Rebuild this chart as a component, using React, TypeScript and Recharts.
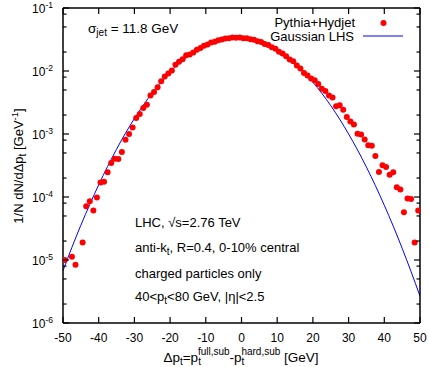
import React from 'react';
import { ComposedChart, Scatter, Line, XAxis, YAxis } from 'recharts';

const FONT = '"Liberation Sans", Arial, Helvetica, sans-serif';

// Pythia+Hydjet, 1 GeV bins (empty bins left out)
const binCenters = [
  -49.5, -47.5, -46.5, -44.5, -43.5, -42.5, -41.5, -40.5, -39.5, -38.5,
  -37.5, -36.5, -35.5, -34.5, -33.5, -32.5, -31.5, -30.5, -29.5, -28.5,
  -27.5, -26.5, -25.5, -24.5, -23.5, -22.5, -21.5, -20.5, -19.5, -18.5,
  -17.5, -16.5, -15.5, -14.5, -13.5, -12.5, -11.5, -10.5, -9.5, -8.5,
  -7.5, -6.5, -5.5, -4.5, -3.5, -2.5, -1.5, -0.5, 0.5, 1.5,
  2.5, 3.5, 4.5, 5.5, 6.5, 7.5, 8.5, 9.5, 10.5, 11.5,
  12.5, 13.5, 14.5, 15.5, 16.5, 17.5, 18.5, 19.5, 20.5, 21.5,
  22.5, 23.5, 24.5, 25.5, 26.5, 27.5, 28.5, 29.5, 30.5, 31.5,
  32.5, 33.5, 34.5, 35.5, 36.5, 37.5, 38.5, 39.5, 40.5, 41.5,
  42.5, 43.5, 44.5, 45.5, 46.5, 47.5, 48.5, 49.5,
];
const pythiaHydjet = [
  1.0e-5, 1.13e-5, 8.4e-6, 1.9e-5, 7.1e-5, 8.6e-5, 6.1e-5, 9.8e-5, 1.7e-4, 1.74e-4,
  2.46e-4, 3.46e-4, 4.05e-4, 4.0e-4, 5.2e-4, 8.1e-4, 1.0e-3, 1.27e-3, 1.8e-3, 2.08e-3,
  2.59e-3, 2.9e-3, 4.1e-3, 4.65e-3, 5.5e-3, 6.86e-3, 8.2e-3, 9.1e-3, 1.02e-2, 1.26e-2,
  1.4e-2, 1.53e-2, 1.78e-2, 1.83e-2, 1.96e-2, 2.18e-2, 2.31e-2, 2.52e-2, 2.64e-2, 2.83e-2,
  2.92e-2, 3.09e-2, 3.15e-2, 3.28e-2, 3.31e-2, 3.39e-2, 3.36e-2, 3.41e-2, 3.32e-2, 3.30e-2,
  3.18e-2, 3.13e-2, 2.97e-2, 2.88e-2, 2.69e-2, 2.58e-2, 2.38e-2, 2.25e-2, 2.03e-2, 1.90e-2,
  1.71e-2, 1.52e-2, 1.43e-2, 1.22e-2, 1.10e-2, 9.3e-3, 8.5e-3, 7.6e-3, 7.1e-3, 6.2e-3,
  5.25e-3, 4.83e-3, 4.1e-3, 3.8e-3, 2.75e-3, 2.85e-3, 2.43e-3, 1.86e-3, 1.58e-3, 1.41e-3,
  1.01e-3, 9.8e-4, 8.2e-4, 6.6e-4, 6.5e-4, 4.47e-4, 2.5e-4, 3.2e-4, 3.0e-4, 2.25e-4,
  2.46e-4, 1.43e-4, 1.32e-4, 5.75e-5, 9.5e-5, 9.3e-5, 1.9e-5, 6.1e-5,
];

const lhsX = [
  -50, -47.5, -45, -42.5, -40, -37.5, -35, -32.5, -30, -27.5, -25, -22.5, -20, -17.5,
  -15, -12.5, -10, -7.5, -5, -2.5, 0, 2.5, 5, 7.5, 10, 12.5, 15, 17.5, 20, 22.5, 25,
  27.5, 30, 32.5, 35, 37.5, 40, 42.5, 45, 47.5, 50,
];
const lhsY = [
  6.77e-6, 1.59e-5, 3.56e-5, 7.62e-5, 1.56e-4, 3.06e-4, 5.73e-4, 1.03e-3, 1.76e-3, 2.87e-3,
  4.5e-3, 6.73e-3, 9.63e-3, 1.317e-2, 1.723e-2, 2.154e-2, 2.576e-2, 2.944e-2, 3.218e-2,
  3.362e-2, 3.36e-2, 3.209e-2, 2.931e-2, 2.56e-2, 2.137e-2, 1.706e-2, 1.302e-2, 9.5e-3,
  6.63e-3, 4.42e-3, 2.82e-3, 1.72e-3, 1.0e-3, 5.59e-4, 2.98e-4, 1.52e-4, 7.39e-5, 3.45e-5,
  1.535e-5, 6.54e-6, 2.66e-6,
];

const xTicks = [-50, -40, -30, -20, -10, 0, 10, 20, 30, 40, 50];
const yDecades = [1e-6, 1e-5, 1e-4, 1e-3, 1e-2, 1e-1];
const yMinorSteps = [2, 5, 8];

const points = binCenters.map((x, i) => ({ x, y: pythiaHydjet[i] }));
const lhs = lhsX.map((x, i) => ({ x, y: lhsY[i] }));
const yTicks = yDecades.flatMap((d, i) =>
  i === yDecades.length - 1 ? [d] : [d, ...yMinorSteps.map((m) => d * m)]
);

const isDecade = (v: number) => Math.abs(Math.log10(v) - Math.round(Math.log10(v))) < 1e-6;
const axisStyle = { stroke: '#000', strokeWidth: 1.5 };

const LeftTick = (p: any) => {
  const { x, y, payload } = p;
  const major = isDecade(payload.value);
  return (
    <g>
      <line x1={x} x2={x + (major ? 6 : 3.5)} y1={y} y2={y} stroke="#000" strokeWidth={1.2} />
      {major && (
        <text x={x - 10} y={y + 4.5} textAnchor="end" fontSize={12} fontFamily={FONT} fill="#000">
          10<tspan dy={-5} fontSize={8.5}>{Math.round(Math.log10(payload.value))}</tspan>
        </text>
      )}
    </g>
  );
};

const RightTick = (p: any) => {
  const { x, y, payload } = p;
  const major = isDecade(payload.value);
  return <line x1={x} x2={x - (major ? 6 : 3.5)} y1={y} y2={y} stroke="#000" strokeWidth={1.2} />;
};

const BottomTick = (p: any) => {
  const { x, y, payload } = p;
  return (
    <g>
      <line x1={x} x2={x} y1={y} y2={y - 6} stroke="#000" strokeWidth={1.2} />
      <text x={x} y={y + 19} textAnchor="middle" fontSize={12} fontFamily={FONT} fill="#000">
        {String(payload.value)}
      </text>
    </g>
  );
};

const TopTick = (p: any) => {
  const { x, y } = p;
  return <line x1={x} x2={x} y1={y} y2={y + 6} stroke="#000" strokeWidth={1.2} />;
};

const Dot = (p: any) => <circle cx={p.cx} cy={p.cy} r={3} fill="#ff0000" />;

export default function App() {
  return (
    <div style={{ position: 'absolute', left: 0, top: 0, width: 429, height: 367, background: '#fff' }}>
      <ComposedChart width={429} height={367} margin={{ top: 0, right: 0, bottom: 0, left: 0 }}>
        <XAxis
          xAxisId="b"
          type="number"
          dataKey="x"
          domain={[-50, 50]}
          ticks={xTicks}
          interval={0}
          height={44}
          tickSize={0}
          tickMargin={0}
          tickLine={false}
          axisLine={axisStyle}
          tick={(p: any) => <BottomTick {...p} />}
          allowDataOverflow
        />
        <XAxis
          xAxisId="t"
          orientation="top"
          type="number"
          dataKey="x"
          domain={[-50, 50]}
          ticks={xTicks}
          interval={0}
          height={8}
          tickSize={0}
          tickMargin={0}
          tickLine={false}
          axisLine={axisStyle}
          tick={(p: any) => <TopTick {...p} />}
          allowDataOverflow
        />
        <YAxis
          yAxisId="l"
          type="number"
          scale="log"
          domain={[1e-6, 1e-1]}
          ticks={yTicks}
          interval={0}
          width={63}
          tickSize={0}
          tickMargin={0}
          tickLine={false}
          axisLine={axisStyle}
          tick={(p: any) => <LeftTick {...p} />}
          allowDataOverflow
        />
        <YAxis
          yAxisId="r"
          orientation="right"
          type="number"
          scale="log"
          domain={[1e-6, 1e-1]}
          ticks={yTicks}
          interval={0}
          width={9}
          tickSize={0}
          tickMargin={0}
          tickLine={false}
          axisLine={axisStyle}
          tick={(p: any) => <RightTick {...p} />}
          allowDataOverflow
        />
        <Scatter
          xAxisId="b"
          yAxisId="l"
          data={points}
          dataKey="y"
          shape={Dot}
          isAnimationActive={false}
        />
        <Line
          xAxisId="b"
          yAxisId="l"
          data={lhs}
          dataKey="y"
          type="monotone"
          stroke="#0000ff"
          strokeWidth={1}
          dot={false}
          activeDot={false}
          isAnimationActive={false}
        />
      </ComposedChart>
      <svg
        width={429}
        height={367}
        style={{ position: 'absolute', left: 0, top: 0, pointerEvents: 'none' }}
        fontFamily={FONT}
        fill="#000"
      >
        <text x={88} y={33} fontSize={13.5}>
          σ<tspan dy={3} fontSize={10}>jet</tspan>
          <tspan dy={-3}> = 11.8 GeV</tspan>
        </text>

        <text x={355} y={27} fontSize={13} textAnchor="end">Pythia+Hydjet</text>
        <circle cx={383.5} cy={23} r={3} fill="#ff0000" />
        <text x={354} y={40.5} fontSize={13} textAnchor="end">Gaussian LHS</text>
        <line x1={363} x2={403} y1={36} y2={36} stroke="#0000ff" strokeWidth={1} />

        <text x={135} y={227} fontSize={13}>LHC, √s=2.76 TeV</text>
        <text x={135} y={251.5} fontSize={13}>
          anti-k<tspan dy={3} fontSize={10}>t</tspan>
          <tspan dy={-3}>, R=0.4, 0-10% central</tspan>
        </text>
        <text x={135} y={278} fontSize={13}>charged particles only</text>
        <text x={135} y={300.5} fontSize={13}>
          40&lt;p<tspan dy={3} fontSize={10}>t</tspan>
          <tspan dy={-3}>&lt;80 GeV, |η|&lt;2.5</tspan>
        </text>

        <text transform="translate(23,166) rotate(-90)" textAnchor="middle" fontSize={13}>
          1/N dN/dΔp<tspan dy={3} fontSize={10}>t</tspan>
          <tspan dy={-3}> [GeV</tspan>
          <tspan dy={-5} fontSize={9.5}>-1</tspan>
          <tspan dy={5}>]</tspan>
        </text>

        <text x={241} y={362} textAnchor="middle" fontSize={13.5}>
          Δp<tspan dy={3} fontSize={10}>t</tspan>
          <tspan dy={-3}>=p</tspan>
          <tspan dy={3} fontSize={10}>t</tspan>
          <tspan dx={-3} dy={-10} fontSize={10}>full,sub</tspan>
          <tspan dy={7}>-p</tspan>
          <tspan dy={3} fontSize={10}>t</tspan>
          <tspan dx={-3} dy={-10} fontSize={10}>hard,sub</tspan>
          <tspan dy={7}> [GeV]</tspan>
        </text>
      </svg>
    </div>
  );
}
